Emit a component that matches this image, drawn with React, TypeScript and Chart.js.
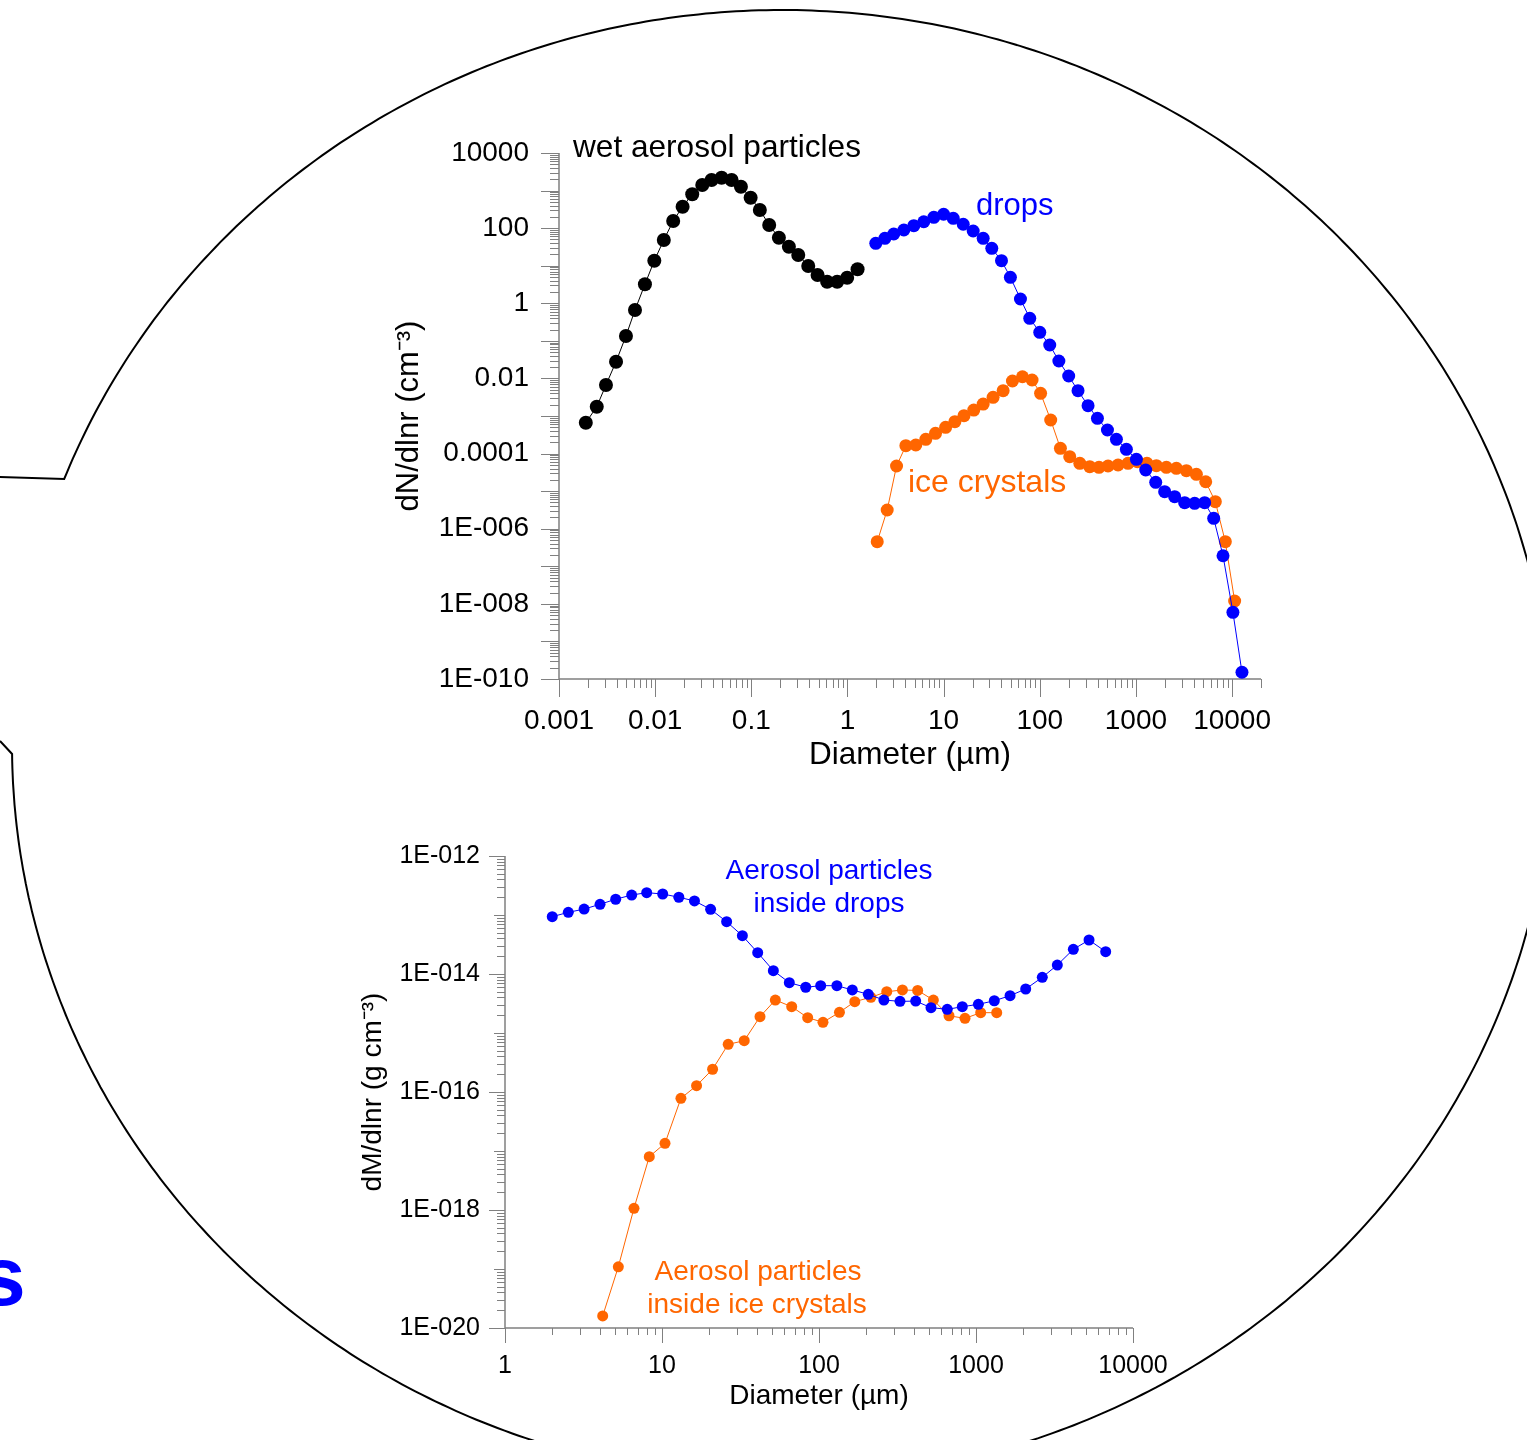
import React, { useEffect, useRef } from 'react';
import { Chart, registerables } from 'chart.js';

Chart.register(...registerables);

const FONT = "'Liberation Sans', Arial, Helvetica, sans-serif";
const BLUE = '#0000ff';
const ORANGE = '#ff6600';
const BLACK = '#000000';
const AXIS_COLOR = '#808080';

// ---------- Top chart: number size distributions (dN/dlnr, cm^-3) ----------
const wetAerosolD = [0.0019, 0.00247, 0.00308, 0.00392, 0.00497, 0.00617, 0.00783, 0.0098, 0.0123, 0.0154, 0.0193, 0.0243, 0.0309, 0.0386, 0.0491, 0.0624, 0.078, 0.0984, 0.1227, 0.1535, 0.1936, 0.246, 0.308, 0.391, 0.489, 0.615, 0.782, 0.993, 1.274];
const wetAerosolN = [6.6e-4, 1.77e-3, 6.7e-3, 0.0279, 0.135, 0.662, 3.2, 13.6, 48.3, 155, 372, 796, 1406, 1910, 2203, 1910, 1268, 646, 304, 121, 55.7, 32.1, 19.3, 9.82, 5.66, 3.75, 3.75, 4.8, 8.02];

const dropsD = [1.97, 2.45, 3.03, 3.86, 4.9, 6.22, 7.91, 10.0, 12.6, 16.0, 20.3, 25.8, 31.7, 40.0, 49.5, 63.0, 78.7, 100, 127, 158, 200, 250, 318, 398, 506, 627, 796, 1012, 1265, 1607, 1991, 2529, 3214, 4083, 5188, 6442, 8054, 10210, 12680];
const dropsN = [39.5, 53.7, 69.8, 89.1, 116, 148, 194, 234, 183, 127, 83.9, 53.7, 29.1, 13.6, 4.92, 1.3, 0.398, 0.169, 0.0776, 0.0291, 0.0116, 4.71e-3, 1.88e-3, 8.67e-4, 4.24e-4, 2.4e-4, 1.3e-4, 7.03e-5, 3.65e-5, 1.72e-5, 9.66e-6, 7.11e-6, 4.92e-6, 4.74e-6, 4.92e-6, 1.89e-6, 1.91e-7, 5.96e-9, 1.51e-10];

const iceD = [2.04, 2.59, 3.24, 4.05, 5.14, 6.53, 8.24, 10.5, 13.1, 16.3, 20.6, 25.8, 32.7, 41.6, 52.0, 66.1, 83.2, 102, 130, 164, 205, 261, 331, 413, 513, 652, 828, 1037, 1303, 1633, 2075, 2636, 3350, 4256, 5321, 6699, 8511, 10640];
const iceN = [4.51e-7, 3.15e-6, 4.67e-5, 1.62e-4, 1.69e-4, 2.4e-4, 3.46e-4, 5.0e-4, 7.05e-4, 1.02e-3, 1.44e-3, 2.08e-3, 3.14e-3, 4.71e-3, 8.53e-3, 0.0111, 9.08e-3, 4.02e-3, 7.82e-4, 1.38e-4, 8.26e-5, 5.51e-5, 4.47e-5, 4.31e-5, 4.67e-5, 4.97e-5, 5.51e-5, 6.07e-5, 5.51e-5, 4.75e-5, 4.31e-5, 4.06e-5, 3.5e-5, 2.81e-5, 1.78e-5, 5.24e-6, 4.51e-7, 1.19e-8];

const topXTickValues = [0.001, 0.01, 0.1, 1, 10, 100, 1000, 10000];
const topXTickLabels = ['0.001', '0.01', '0.1', '1', '10', '100', '1000', '10000'];
const topYTickValues = [1e4, 1e2, 1, 1e-2, 1e-4, 1e-6, 1e-8, 1e-10];
const topYTickLabels = ['10000', '100', '1', '0.01', '0.0001', '1E-006', '1E-008', '1E-010'];

// ---------- Bottom chart: aerosol mass inside hydrometeors (dM/dlnr, g cm^-3) ----------
const apDropsD = [2.0, 2.53, 3.19, 4.03, 5.07, 6.41, 7.99, 10.1, 12.8, 16.1, 20.4, 25.8, 32.5, 40.7, 51.2, 64.7, 82.3, 102.5, 130, 163, 206, 259, 328, 413, 517, 656, 818, 1035, 1308, 1648, 2073, 2644, 3296, 4168, 5248, 6699];
const apDropsM = [9.36e-14, 1.11e-13, 1.26e-13, 1.52e-13, 1.85e-13, 2.18e-13, 2.39e-13, 2.27e-13, 2.0e-13, 1.73e-13, 1.25e-13, 7.69e-14, 4.46e-14, 2.3e-14, 1.14e-14, 7.13e-15, 5.96e-15, 6.34e-15, 6.34e-15, 5.36e-15, 4.53e-15, 3.62e-15, 3.44e-15, 3.47e-15, 2.69e-15, 2.52e-15, 2.79e-15, 3.06e-15, 3.52e-15, 4.29e-15, 5.57e-15, 8.79e-15, 1.42e-14, 2.62e-14, 3.77e-14, 2.39e-14];

const apIceD = [4.19, 5.27, 6.63, 8.3, 10.45, 13.2, 16.6, 21.0, 26.4, 33.4, 42.1, 52.7, 67.0, 84.7, 106, 135, 169, 214, 270, 340, 425, 535, 673, 851, 1071, 1355];
const apIceM = [1.6e-20, 1.09e-19, 1.07e-18, 8.0e-18, 1.35e-17, 7.82e-17, 1.28e-16, 2.43e-16, 6.43e-16, 7.4e-16, 1.89e-15, 3.62e-15, 2.79e-15, 1.82e-15, 1.52e-15, 2.24e-15, 3.4e-15, 4.03e-15, 5.01e-15, 5.36e-15, 5.27e-15, 3.62e-15, 1.96e-15, 1.77e-15, 2.21e-15, 2.21e-15];

const botXTickValues = [1, 10, 100, 1000, 10000];
const botXTickLabels = ['1', '10', '100', '1000', '10000'];
const botYTickValues = [1e-12, 1e-14, 1e-16, 1e-18, 1e-20];
const botYTickLabels = ['1E-012', '1E-014', '1E-016', '1E-018', '1E-020'];

// ---------- helpers ----------
function series(xs: number[], ys: number[], color: string, r: number) {
  return {
    data: xs.map((x, i) => ({ x, y: ys[i] })),
    showLine: true,
    borderColor: color,
    borderWidth: 1,
    backgroundColor: color,
    pointRadius: r,
    pointHoverRadius: r,
    pointBackgroundColor: color,
    pointBorderColor: color,
    pointBorderWidth: 0,
    clip: false,
  };
}

function logAxis(o: any) {
  const isX = o.axis === 'x';
  return {
    type: 'logarithmic',
    position: isX ? 'bottom' : 'left',
    min: o.min,
    max: o.max,
    grid: { display: false, drawTicks: false },
    border: { display: false },
    ticks: {
      autoSkip: false,
      maxRotation: 0,
      minRotation: 0,
      padding: o.padding,
      color: '#000',
      font: { family: FONT, size: o.fontSize },
      callback: (_v: any, i: number) => o.labels[i],
    },
    afterBuildTicks: (s: any) => {
      s.ticks = o.values.map((v: number) => ({ value: v }));
    },
    afterFit: (s: any) => {
      if (isX) s.height = o.size;
      else s.width = o.size;
    },
    title: {
      display: true,
      text: o.title,
      color: '#000',
      font: { family: FONT, size: o.titleSize },
      padding: isX ? { top: 0, bottom: o.titlePad } : { top: o.titlePad, bottom: 0 },
    },
  };
}

function ticksPlugin(xLen: (m: number, e: number) => number, yLen: (m: number, e: number) => number) {
  return {
    id: 'logTickMarks',
    beforeDatasetsDraw(chart: any) {
      const ctx = chart.ctx;
      const { left, right, top, bottom } = chart.chartArea;
      ctx.save();
      ctx.strokeStyle = AXIS_COLOR;
      ctx.lineWidth = 1.5;
      ctx.beginPath();
      ctx.moveTo(left, bottom);
      ctx.lineTo(right, bottom);
      ctx.moveTo(left, top);
      ctx.lineTo(left, bottom);
      ctx.stroke();
      ctx.lineWidth = 1;
      const draw = (scale: any, horizontal: boolean, lenFn: (m: number, e: number) => number) => {
        const min = scale.min;
        const max = scale.max;
        const e0 = Math.floor(Math.log10(min));
        const e1 = Math.ceil(Math.log10(max));
        for (let e = e0; e <= e1; e++) {
          for (let m = 1; m <= 9; m++) {
            const v = m * Math.pow(10, e);
            if (v < min * 0.999 || v > max * 1.001) continue;
            const len = lenFn(m, e);
            const p = Math.round(scale.getPixelForValue(v)) + 0.5;
            ctx.beginPath();
            if (horizontal) {
              ctx.moveTo(p, bottom);
              ctx.lineTo(p, bottom + len);
            } else {
              ctx.moveTo(left, p);
              ctx.lineTo(left - len, p);
            }
            ctx.stroke();
          }
        }
      };
      draw(chart.scales.x, true, xLen);
      draw(chart.scales.y, false, yLen);
      ctx.restore();
    },
  };
}

type Ann = { text: string; x: number; y: number; color: string; size: number; align: CanvasTextAlign };

function annotationPlugin(anns: Ann[]) {
  return {
    id: 'textAnnotations',
    afterDraw(chart: any) {
      const ctx = chart.ctx;
      ctx.save();
      ctx.textBaseline = 'middle';
      for (const a of anns) {
        ctx.font = `${a.size}px ${FONT}`;
        ctx.fillStyle = a.color;
        ctx.textAlign = a.align;
        ctx.fillText(a.text, a.x, a.y);
      }
      ctx.restore();
    },
  };
}

function topConfig(): any {
  return {
    type: 'scatter',
    data: {
      datasets: [
        series(dropsD, dropsN, BLUE, 6.5),
        series(iceD, iceN, ORANGE, 6.5),
        series(wetAerosolD, wetAerosolN, BLACK, 7),
      ],
    },
    options: {
      responsive: false,
      animation: false,
      devicePixelRatio: 1,
      layout: { padding: { left: 0, right: 59, top: 73, bottom: 0 } },
      plugins: { legend: { display: false }, tooltip: { enabled: false } },
      scales: {
        x: logAxis({ axis: 'x', min: 0.001, max: 20000, values: topXTickValues, labels: topXTickLabels, fontSize: 28, padding: 25, size: 111, title: 'Diameter (µm)', titleSize: 31.5, titlePad: 16 }),
        y: logAxis({ axis: 'y', min: 1e-10, max: 1e4, values: topYTickValues, labels: topYTickLabels, fontSize: 28, padding: 30, size: 199, title: 'dN/dlnr (cm⁻³)', titleSize: 31, titlePad: 31 }),
      },
    },
    plugins: [
      ticksPlugin((m) => (m === 1 ? 18 : 9), (m) => (m === 1 ? 18 : 9)),
      annotationPlugin([
        { text: 'wet aerosol particles', x: 213, y: 68, color: BLACK, size: 31.6, align: 'left' },
        { text: 'drops', x: 616, y: 126, color: BLUE, size: 31, align: 'left' },
        { text: 'ice crystals', x: 548, y: 403, color: ORANGE, size: 32, align: 'left' },
      ]),
    ],
  };
}

function bottomConfig(): any {
  return {
    type: 'scatter',
    data: {
      datasets: [
        series(apDropsD, apDropsM, BLUE, 5.5),
        series(apIceD, apIceM, ORANGE, 5.5),
      ],
    },
    options: {
      responsive: false,
      animation: false,
      devicePixelRatio: 1,
      layout: { padding: { left: 0, right: 77, top: 86, bottom: 0 } },
      plugins: { legend: { display: false }, tooltip: { enabled: false } },
      scales: {
        x: logAxis({ axis: 'x', min: 1, max: 10000, values: botXTickValues, labels: botXTickLabels, fontSize: 25, padding: 23, size: 92, title: 'Diameter (µm)', titleSize: 28, titlePad: 7 }),
        y: logAxis({ axis: 'y', min: 1e-20, max: 1e-12, values: botYTickValues, labels: botYTickLabels, fontSize: 25, padding: 25, size: 175, title: 'dM/dlnr (g cm⁻³)', titleSize: 28, titlePad: 26 }),
      },
    },
    plugins: [
      ticksPlugin((m) => (m === 1 ? 15 : 7), (m, e) => (m === 1 ? (e % 2 === 0 ? 16 : 11) : 8)),
      annotationPlugin([
        { text: 'Aerosol particles', x: 499, y: 101, color: BLUE, size: 28, align: 'center' },
        { text: 'inside drops', x: 499, y: 134, color: BLUE, size: 28, align: 'center' },
        { text: 'Aerosol particles', x: 428, y: 502, color: ORANGE, size: 28, align: 'center' },
        { text: 'inside ice crystals', x: 427, y: 535, color: ORANGE, size: 28, align: 'center' },
      ]),
    ],
  };
}

function ChartCanvas(props: { left: number; top: number; width: number; height: number; make: () => any }) {
  const ref = useRef<HTMLCanvasElement | null>(null);
  useEffect(() => {
    if (!ref.current) return;
    const chart = new Chart(ref.current, props.make());
    return () => chart.destroy();
  }, []);
  return (
    <canvas
      ref={ref}
      width={props.width}
      height={props.height}
      style={{ position: 'absolute', left: props.left, top: props.top, width: props.width, height: props.height }}
    />
  );
}

// decorative outline (slide shape behind the charts)
const OUTLINE = { cx: 782, cy: 745, rx: 770, ry: 735 };
function outlinePath(): string {
  const { cx, cy, rx, ry } = OUTLINE;
  const sy0 = (479 - cy) / ry;
  const t0 = Math.atan2(sy0, -Math.sqrt(1 - sy0 * sy0));
  const t1 = Math.PI - Math.asin((754 - cy) / ry);
  const parts: string[] = ['M 0 477'];
  const n = 600;
  for (let i = 0; i <= n; i++) {
    const t = t0 + ((t1 - t0) * i) / n;
    parts.push(`L ${(cx + rx * Math.cos(t)).toFixed(1)} ${(cy + ry * Math.sin(t)).toFixed(1)}`);
  }
  parts.push('L 0 741');
  return parts.join(' ');
}

export default function App() {
  return (
    <div style={{ position: 'absolute', left: 0, top: 0, width: 1527, height: 1440, overflow: 'hidden', background: '#ffffff' }}>
      <svg width={1527} height={1440} style={{ position: 'absolute', left: 0, top: 0 }}>
        <path d={outlinePath()} fill="none" stroke="#000" strokeWidth={2} />
        <text x={-21} y={1305} fill={BLUE} fontSize={84} fontWeight="bold" fontFamily={FONT}>s</text>
      </svg>
      <ChartCanvas left={360} top={80} width={960} height={710} make={topConfig} />
      <ChartCanvas left={330} top={770} width={880} height={650} make={bottomConfig} />
    </div>
  );
}
